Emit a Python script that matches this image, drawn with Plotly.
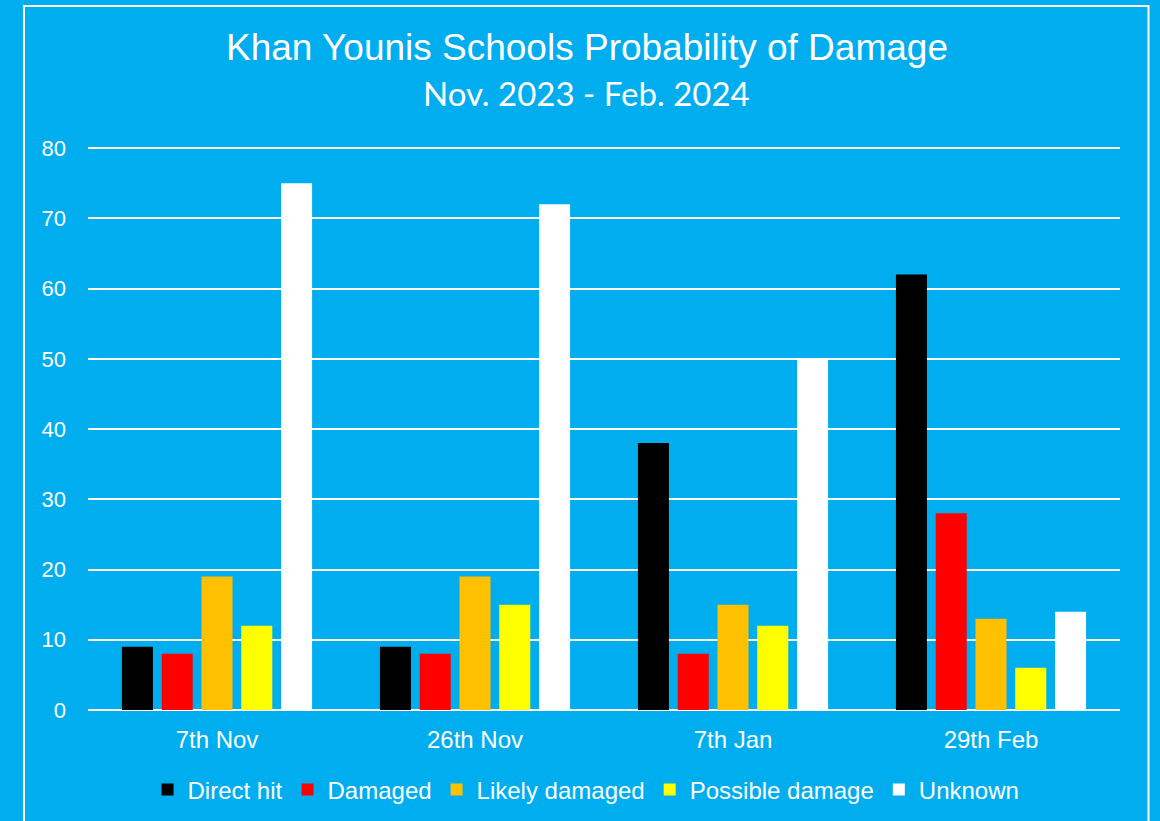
import plotly.graph_objects as go

categories = ["7th Nov", "26th Nov", "7th Jan", "29th Feb"]
direct_hit = [9, 9, 38, 62]
damaged = [8, 8, 8, 28]
likely_damaged = [19, 19, 15, 13]
possible_damage = [12, 15, 12, 6]
unknown = [75, 72, 50, 14]

series_names = ["Direct hit", "Damaged", "Likely damaged", "Possible damage", "Unknown"]
series_values = [direct_hit, damaged, likely_damaged, possible_damage, unknown]
series_colors = ["#000000", "#FF0000", "#FFC000", "#FFFF00", "#FFFFFF"]

BG = "#00AEEF"

fig = go.Figure()
for name, vals, col in zip(series_names, series_values, series_colors):
    fig.add_trace(go.Bar(x=categories, y=vals, name=name,
                         marker=dict(color=col, line=dict(width=0))))

W, H = 1160, 821
YMAX = 80.3
L, R, B = 88, 40, 111
T = 146
pw, ph = W - L - R, H - T - B

def px(x):
    return (x - L) / pw

def py(y):
    return (H - B - y) / ph

fig.update_layout(
    width=W, height=H,
    paper_bgcolor=BG, plot_bgcolor=BG,
    margin=dict(l=L, r=R, t=T, b=B, autoexpand=False),
    barmode="group", bargap=0.229, bargroupgap=0.22,
    font=dict(family="Liberation Sans, Arial, sans-serif", color="white"),
    showlegend=True,
    legend=dict(orientation="h", x=px(586), xanchor="center", y=py(790), yanchor="middle",
                font=dict(size=24, color="white"), bgcolor="rgba(0,0,0,0)",
                traceorder="normal"),
    xaxis=dict(showgrid=False, zeroline=False, showline=False, ticks="",
               tickfont=dict(size=24, color="white"), ticklabelstandoff=13),
    yaxis=dict(range=[0, YMAX], tickvals=[0, 10, 20, 30, 40, 50, 60, 70, 80],
               showgrid=True, gridcolor="white", gridwidth=2,
               zeroline=True, zerolinecolor="white", zerolinewidth=2, showline=False,
               ticks="", tickfont=dict(size=22, color="white"), ticklabelstandoff=21),
    shapes=[dict(type="rect", xref="paper", yref="paper",
                 x0=px(24), x1=px(1148.5), y0=py(6), y1=py(900),
                 line=dict(color="white", width=2), fillcolor="rgba(0,0,0,0)", layer="below")],
    annotations=[
        dict(text="Khan Younis Schools Probability of Damage", xref="paper", yref="paper",
             x=px(586.5), y=py(47), xanchor="center", yanchor="middle", showarrow=False,
             font=dict(size=37, color="white", family="Liberation Sans, Arial, sans-serif")),
        dict(text="Nov. 2023 - Feb. 2024", xref="paper", yref="paper",
             x=px(586.5), y=py(93), xanchor="center", yanchor="middle", showarrow=False,
             font=dict(size=33, color="white", family="Lato, Carlito, sans-serif")),
    ],
)

fig.write_html("out.html", config={"displayModeBar": False})

with open("out.html", "r", encoding="utf-8") as f:
    html = f.read()
html = html.replace("<head>", "<head><style>html,body{margin:0;padding:0;background:%s;}</style>" % BG, 1)
with open("out.html", "w", encoding="utf-8") as f:
    f.write(html)
